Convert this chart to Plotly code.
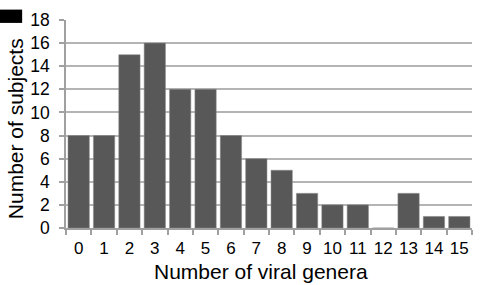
import plotly.graph_objects as go

categories = [str(i) for i in range(16)]
subjects = [8, 8, 15, 16, 12, 12, 8, 6, 5, 3, 2, 2, 0, 3, 1, 1]
y_ticks = list(range(0, 19, 2))

fig = go.Figure(go.Bar(
    x=categories, y=subjects,
    marker=dict(color="#585858", line=dict(color="#8a8a8a", width=0.5)),
))

font = "Liberation Sans, Arial, sans-serif"
fig.update_layout(
    width=500, height=285,
    margin=dict(l=66, r=28, t=10, b=57),
    paper_bgcolor="white", plot_bgcolor="white",
    bargap=0.16,
    showlegend=False,
    font=dict(family=font, color="black", size=17),
    xaxis=dict(
        type="category",
        tickangle=0,
        tickson="boundaries", ticks="outside", ticklen=5, tickcolor="#a0a0a0", tickwidth=1.5,
        ticklabelstandoff=4,
        showline=True, linecolor="#a0a0a0", linewidth=1.5,
        showgrid=False,
        tickfont=dict(size=17),
    ),
    yaxis=dict(
        range=[0, 18], tickvals=y_ticks,
        ticks="outside", ticklen=5, tickcolor="#a0a0a0", tickwidth=1.5,
        ticklabelstandoff=6,
        showline=True, linecolor="#a0a0a0", linewidth=1.5,
        showgrid=True, gridcolor="#b4b4b4", gridwidth=1.5,
        zeroline=False,
        tickfont=dict(size=17.5),
    ),
    annotations=[
        dict(text="Number of viral genera", xref="paper", yref="paper",
             x=0.48, y=0, xanchor="center", yanchor="top", yshift=-30,
             showarrow=False, font=dict(size=21)),
        dict(text="Number of subjects", xref="paper", yref="paper",
             x=-0.1256, y=0.475, xanchor="center", yanchor="middle", textangle=-90,
             showarrow=False, font=dict(size=21)),
    ],
    shapes=[dict(type="rect", xref="paper", yref="paper",
                 x0=-0.163, x1=-0.108, y0=0.986, y1=1.05,
                 fillcolor="black", line=dict(width=0))],
)

fig.write_html("out.html")
